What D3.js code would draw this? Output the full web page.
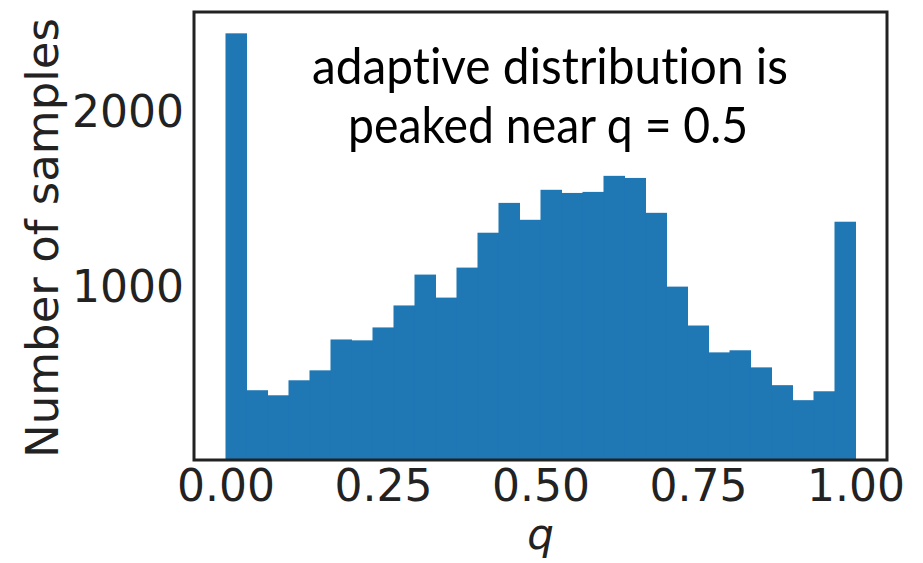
<!DOCTYPE html>
<html>
<head>
<meta charset="utf-8">
<script src="https://cdn.jsdelivr.net/npm/d3@7"></script>
<style>
  html, body { margin: 0; padding: 0; background: #fff; }
  svg { display: block; }
</style>
</head>
<body>
<svg id="chart" width="923" height="563"></svg>
<script>
// ---- data ----
const binLow = 0;
const binHigh = 1;
const counts = [2446, 400, 371, 457, 514, 691, 686, 760, 886, 1063,
                931, 1103, 1303, 1474, 1377, 1549, 1531, 1537, 1629, 1617,
                1417, 994, 771, 617, 629, 531, 429, 343, 394, 1366];
const xTicks = [0, 0.25, 0.5, 0.75, 1.0];
const xTickLabels = ["0.00", "0.25", "0.50", "0.75", "1.00"];
const yTicks = [1000, 2000];
const yTickLabels = ["1000", "2000"];
const annotationLines = ["adaptive distribution is", "peaked near q = 0.5"];
const xLabel = "q";
const yLabel = "Number of samples";

// ---- layout ----
const plotL = 194, plotR = 887, plotT = 12, plotB = 460;
const svg = d3.select("#chart");

const binW = (binHigh - binLow) / counts.length;
const bins = counts.map((c, i) => ({ x0: binLow + i * binW, x1: binLow + (i + 1) * binW, n: c }));

const x = d3.scaleLinear().domain([-0.05, 1.05]).range([plotL, plotR]);
const yMax = d3.max(counts) * 1.05;
const y = d3.scaleLinear().domain([0, yMax]).range([plotB, plotT]);

// bars
svg.append("g").selectAll("rect").data(bins).join("rect")
  .attr("x", d => x(d.x0))
  .attr("y", d => y(d.n))
  .attr("width", d => x(d.x1) - x(d.x0) + 0.5)
  .attr("height", d => y(0) - y(d.n))
  .attr("fill", "#1f77b4");

// axes (no tick marks)
const tickFont = "'DejaVu Sans', sans-serif";
const xAxis = d3.axisBottom(x).tickValues(xTicks)
  .tickFormat((d, i) => xTickLabels[i]).tickSize(0).tickPadding(9);
const gx = svg.append("g").attr("transform", `translate(0,${plotB})`).call(xAxis);
gx.select(".domain").remove();
gx.selectAll("text").attr("font-family", tickFont).attr("font-size", 44)
  .attr("fill", "#222").attr("dy", "0.73em");

const yAxis = d3.axisLeft(y).tickValues(yTicks)
  .tickFormat((d, i) => yTickLabels[i]).tickSize(0).tickPadding(10);
const gy = svg.append("g").attr("transform", `translate(${plotL},0)`).call(yAxis);
gy.select(".domain").remove();
gy.selectAll("text").attr("font-family", tickFont).attr("font-size", 44)
  .attr("fill", "#222").attr("dy", "0.36em");

// frame
svg.append("rect")
  .attr("x", plotL).attr("y", plotT)
  .attr("width", plotR - plotL).attr("height", plotB - plotT)
  .attr("fill", "none").attr("stroke", "#222").attr("stroke-width", 3);

// axis labels
svg.append("text")
  .attr("x", (plotL + plotR) / 2).attr("y", 549)
  .attr("text-anchor", "middle")
  .attr("font-family", tickFont).attr("font-style", "italic")
  .attr("font-size", 42).attr("fill", "#222")
  .text(xLabel);

svg.append("text")
  .attr("transform", `translate(58,${(plotT + plotB) / 2 + 2}) rotate(-90)`)
  .attr("text-anchor", "middle")
  .attr("font-family", tickFont)
  .attr("font-size", 45).attr("fill", "#222")
  .text(yLabel);

// annotation
const ann = svg.append("g").attr("font-family", "Lato, 'Open Sans', sans-serif")
  .attr("font-size", 50).attr("fill", "#000")
  .style("font-variant-ligatures", "none");
ann.append("text").attr("x", 550).attr("y", 84).attr("text-anchor", "middle")
  .attr("textLength", 476).attr("lengthAdjust", "spacingAndGlyphs")
  .text(annotationLines[0]);
ann.append("text").attr("x", 548).attr("y", 143).attr("text-anchor", "middle")
  .attr("textLength", 400).attr("lengthAdjust", "spacingAndGlyphs")
  .text(annotationLines[1]);
</script>
</body>
</html>
